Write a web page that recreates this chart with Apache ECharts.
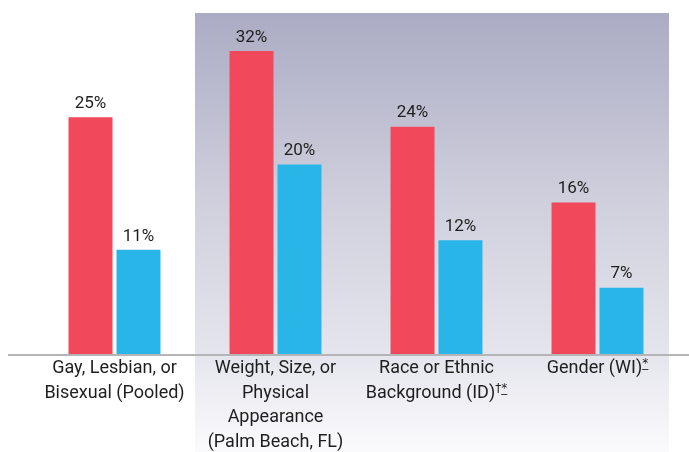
<!DOCTYPE html>
<html><head><meta charset="utf-8">
<script src="https://cdn.jsdelivr.net/npm/echarts@6/dist/echarts.min.js"></script>
<style>html,body{margin:0;padding:0;background:#fff}#c{width:689px;height:452px}</style>
</head><body><div id="c"></div>
<script>
var categories = [
  '{n|Gay, Lesbian, or}\n{n|Bisexual (Pooled)}',
  '{n|Weight, Size, or}\n{n|Physical}\n{n|Appearance}\n{n|(Palm Beach, FL)}',
  '{n|Race or Ethnic}\n{n|Background (ID)}{s|†*̲}',
  '{n|Gender (WI)}{s|*̲}'
];
var seriesA = [25, 32, 24, 16];
var seriesB = [11, 20, 12, 7];

var chart = echarts.init(document.getElementById('c'));
var font = 'Roboto';
var lbl = {show:true, position:'top', distance:5, formatter:'{c}%', color:'#1e1e1e', fontSize:17, fontFamily:font};
chart.setOption({
  animation:false,
  grid:{left:34, right:11, top:13, bottom:98},
  xAxis:{type:'category', data:categories,
    axisLine:{show:false}, axisTick:{show:false},
    axisLabel:{interval:0, margin:2, color:'#1e1e1e', fontFamily:font,
      rich:{n:{fontSize:18, lineHeight:24.7, fontFamily:font, color:'#1e1e1e'},
            s:{fontSize:12, lineHeight:24.7, fontFamily:'DejaVu Sans', color:'#1e1e1e', padding:[0,0,8,0]}}}},
  yAxis:{type:'value', min:0, max:36, show:false, splitLine:{show:false}},
  series:[
    {type:'bar', data:seriesA, barWidth:44, barGap:'9%', itemStyle:{color:'#f1495b'}, label:lbl, z:3},
    {type:'bar', data:seriesB, barWidth:44, itemStyle:{color:'#29b5e8'}, label:lbl, z:3}
  ]
});
var base = chart.convertToPixel({yAxisIndex:0}, 0);
var x1 = chart.convertToPixel({xAxisIndex:0}, categories[1]);
var band = chart.convertToPixel({xAxisIndex:0}, categories[2]) - x1;
var left = x1 - band/2;
chart.setOption({graphic:[
  {type:'rect', z:-10, silent:true, shape:{x:left, y:13, width:669-left, height:452-13},
   style:{fill:new echarts.graphic.LinearGradient(0,0,0,1,[
     {offset:0,color:'#abacc4'},{offset:0.45,color:'#d1d1de'},{offset:0.78,color:'#e5e5ed'},{offset:1,color:'#fbfbfd'}])}},
  {type:'line', z:5, silent:true, shape:{x1:8, y1:base+1, x2:689, y2:base+1}, style:{stroke:'#b5b5b8', lineWidth:2}}
]});
</script></body></html>
